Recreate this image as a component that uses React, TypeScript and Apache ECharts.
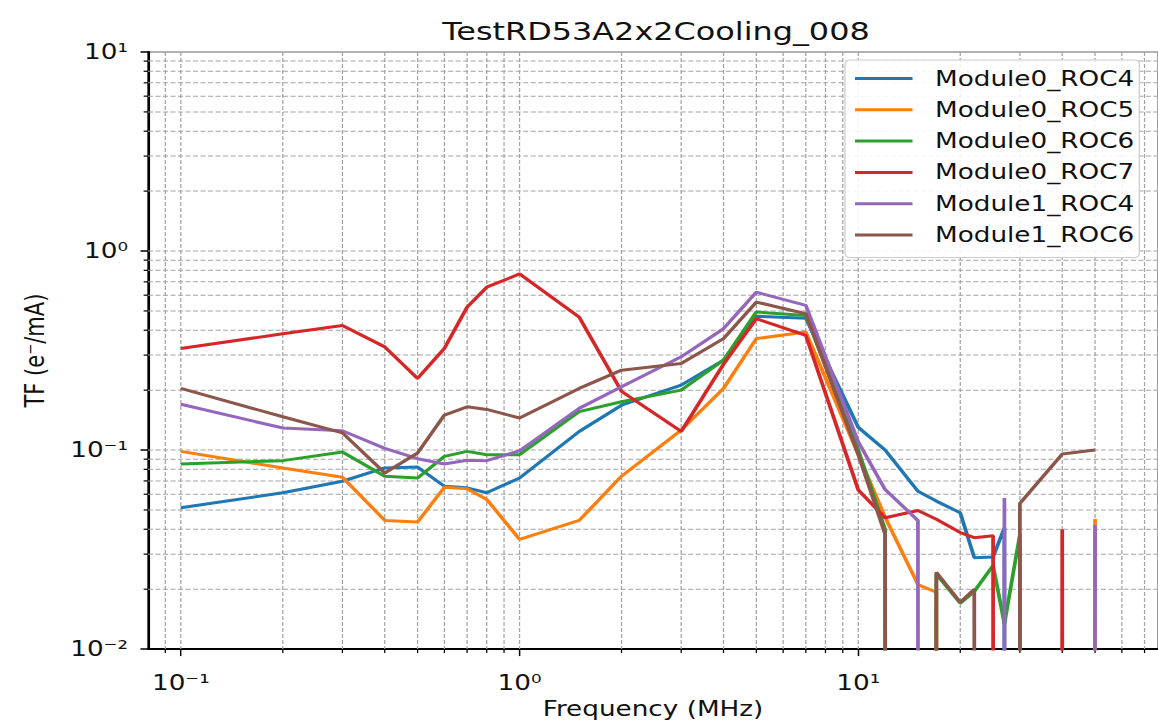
import React, { useEffect, useRef } from 'react';
import * as echarts from 'echarts';

// Page / stretch (the reference image is stretched horizontally)
const PAGE_W = 1158;
const PAGE_H = 724;
const CHART_W = 926;
const SCALE_X = PAGE_W / CHART_W;
const FONT = '"DejaVu Sans", "Liberation Sans", sans-serif';

// ---------------- data ----------------
const frequencies = [0.1, 0.2, 0.3, 0.4, 0.5, 0.6, 0.7, 0.8, 1, 1.5, 2, 3, 4, 5, 7, 10, 12, 15, 17, 20, 22, 25, 27, 30, 40, 50];

const seriesNames = ['Module0_ROC4', 'Module0_ROC5', 'Module0_ROC6', 'Module0_ROC7', 'Module1_ROC4', 'Module1_ROC6'];
const seriesColors = ['#1f77b4', '#ff7f0e', '#2ca02c', '#d62728', '#9467bd', '#8c564b'];

// 0 = non-positive reading (matplotlib clips these on a log axis -> vertical drop)
const module0Roc4 = [0.0513, 0.061, 0.0697, 0.0813, 0.0822, 0.0658, 0.0646, 0.061, 0.0724, 0.124, 0.168, 0.212, 0.283, 0.47, 0.46, 0.13, 0.1, 0.0621, 0.0554, 0.0484, 0.0288, 0.029, 0.0407, 0, 0, 0];
const module0Roc5 = [0.0985, 0.0813, 0.073, 0.0443, 0.0435, 0.065, 0.064, 0.0565, 0.0356, 0.0443, 0.0739, 0.126, 0.204, 0.363, 0.392, 0.095, 0.046, 0.0211, 0.0193, 0, 0, 0, 0, 0, 0, 0.045];
const module0Roc6 = [0.0851, 0.0885, 0.0977, 0.0739, 0.0724, 0.093, 0.0985, 0.0948, 0.0948, 0.156, 0.175, 0.2, 0.283, 0.494, 0.475, 0.1, 0.04, 0, 0.0238, 0.017, 0.0195, 0.0263, 0.0134, 0.0377, 0, 0];
const module0Roc7 = [0.324, 0.384, 0.423, 0.33, 0.229, 0.324, 0.523, 0.658, 0.767, 0.466, 0.197, 0.124, 0.27, 0.457, 0.377, 0.063, 0.0457, 0.0497, 0.0449, 0.0385, 0.0363, 0.0371, 0, 0, 0.04, 0];
const module1Roc4 = [0.17, 0.129, 0.125, 0.102, 0.0905, 0.0851, 0.0888, 0.0885, 0.0992, 0.162, 0.208, 0.294, 0.407, 0.621, 0.533, 0.11, 0.0633, 0.0443, 0, 0, 0, 0, 0.0575, 0, 0, 0.042];
const module1Roc6 = [0.204, 0.147, 0.122, 0.0767, 0.0966, 0.15, 0.165, 0.16, 0.145, 0.204, 0.252, 0.272, 0.363, 0.554, 0.484, 0.095, 0.0377, 0, 0.0243, 0.0172, 0.02, 0, 0, 0.054, 0.0955, 0.1];

const seriesValues = [module0Roc4, module0Roc5, module0Roc6, module0Roc7, module1Roc4, module1Roc6];

// axis ranges and grid / tick positions
const X_MIN = 0.08;
const X_MAX = 76.7;
const Y_MIN = 0.01;
const Y_MAX = 10;
const xMajorGrid = [0.1, 1, 10];
const xMinorGrid = [0.09, 0.2, 0.3, 0.4, 0.5, 0.6, 0.7, 0.8, 0.9, 2, 3, 4, 5, 6, 7, 8, 9, 20, 30, 40, 50, 60, 70];
const yMajorGrid = [0.1, 1];
const yMinorGrid = [0.02, 0.03, 0.04, 0.05, 0.06, 0.07, 0.08, 0.09, 0.2, 0.3, 0.4, 0.5, 0.6, 0.7, 0.8, 0.9, 2, 3, 4, 5, 6, 7, 8, 9];

const TITLE = 'TestRD53A2x2Cooling_008';
const X_NAME = 'Frequency (MHz)';
const Y_NAME = 'TF (e\u207B/mA)';

const CLIPPED = 1e-300; // like matplotlib's clipping of non-positive values

const SUP: Record<string, string> = { '-': '\u207B', '0': '\u2070', '1': '\u00B9', '2': '\u00B2', '3': '\u00B3' };
function powerLabel(v: number): string {
  const e = Math.log10(v);
  const r = Math.round(e);
  if (Math.abs(e - r) > 1e-6) return '';
  return '10' + String(r).split('').map((c) => SUP[c] || c).join('');
}

const GRID_STYLE = { stroke: '#a3a3a3', lineWidth: 1, lineDash: [4, 2] };

function vGrid(values: number[], minor: boolean) {
  return {
    type: 'custom',
    silent: true,
    clip: false,
    z: 1,
    data: values.map((v) => [v, 1]),
    renderItem: (params: any, api: any) => {
      const cs = params.coordSys;
      const p = api.coord([api.value(0), 1]);
      const children: any[] = [
        { type: 'line', shape: { x1: p[0], y1: cs.y, x2: p[0], y2: cs.y + cs.height }, style: GRID_STYLE },
      ];
      if (minor) {
        children.push({ type: 'line', shape: { x1: p[0], y1: cs.y + cs.height, x2: p[0], y2: cs.y + cs.height + 4 }, style: { stroke: '#000', lineWidth: 1 } });
      }
      return { type: 'group', children };
    },
  };
}

function hGrid(values: number[], minor: boolean) {
  return {
    type: 'custom',
    silent: true,
    clip: false,
    z: 1,
    data: values.map((v) => [1, v]),
    renderItem: (params: any, api: any) => {
      const cs = params.coordSys;
      const p = api.coord([1, api.value(1)]);
      const children: any[] = [
        { type: 'line', shape: { x1: cs.x, y1: p[1], x2: cs.x + cs.width, y2: p[1] }, style: GRID_STYLE },
      ];
      if (minor) {
        children.push({ type: 'line', shape: { x1: cs.x - 3.5, y1: p[1], x2: cs.x, y2: p[1] }, style: { stroke: '#000', lineWidth: 1.2 } });
      }
      return { type: 'group', children };
    },
  };
}

export default function App() {
  const ref = useRef<HTMLDivElement>(null);

  useEffect(() => {
    if (!ref.current) return;
    const chart = echarts.init(ref.current, null, { renderer: 'svg', width: CHART_W, height: PAGE_H });

    const lineSeries = seriesNames.map((name, i) => ({
      name,
      type: 'line',
      symbol: 'none',
      showSymbol: false,
      clip: true,
      z: 3,
      lineStyle: { color: seriesColors[i], width: 3 },
      itemStyle: { color: seriesColors[i] },
      data: frequencies.map((f, j) => [f, seriesValues[i][j] > 0 ? seriesValues[i][j] : CLIPPED]),
    }));

    chart.setOption({
      animation: false,
      textStyle: { fontFamily: FONT },
      graphic: [
        {
          type: 'text',
          x: 656 / SCALE_X,
          y: 31,
          style: {
            text: TITLE,
            fill: '#111',
            font: `25.5px ${FONT}`,
            textAlign: 'center',
            textVerticalAlign: 'middle',
            align: 'center',
            verticalAlign: 'middle',
          },
        },
      ],
      grid: {
        left: 148 / SCALE_X,
        right: 0,
        top: 52,
        bottom: 72,
        show: true,
        borderColor: '#999',
        borderWidth: 1.5,
        containLabel: false,
      },
      legend: {
        data: seriesNames,
        orient: 'vertical',
        left: 845 / SCALE_X,
        top: 60,
        icon: 'rect',
        itemWidth: 46,
        itemHeight: 3,
        itemGap: 10.3,
        padding: [8, 4, 12, 8],
        backgroundColor: 'rgba(255,255,255,0.88)',
        borderColor: '#cccccc',
        borderWidth: 1,
        borderRadius: 4,
        selectedMode: false,
        textStyle: { fontSize: 21, color: '#111', fontFamily: FONT, padding: [0, 0, 0, 13], lineHeight: 21 },
      },
      xAxis: {
        type: 'log',
        logBase: 10,
        min: X_MIN,
        max: X_MAX,
        name: X_NAME,
        nameLocation: 'middle',
        nameGap: 46,
        nameTextStyle: { fontSize: 21, color: '#111', fontFamily: FONT },
        axisLine: { show: true, onZero: false, lineStyle: { color: '#000', width: 2 } },
        axisTick: { show: true, length: 7, lineStyle: { color: '#000', width: 1.2 } },
        axisLabel: { formatter: powerLabel, fontSize: 21, color: '#111', margin: 23, showMinLabel: false, showMaxLabel: false, fontFamily: FONT },
        splitLine: { show: false },
      },
      yAxis: {
        type: 'log',
        logBase: 10,
        min: Y_MIN,
        max: Y_MAX,
        name: Y_NAME,
        nameLocation: 'middle',
        nameRotate: 90,
        nameGap: 80,
        nameTextStyle: { fontSize: 21, color: '#111', fontFamily: FONT },
        axisLine: { show: true, onZero: false, lineStyle: { color: '#000', width: 2 } },
        axisTick: { show: true, length: 6, lineStyle: { color: '#000', width: 1.5 } },
        axisLabel: { formatter: powerLabel, fontSize: 21, color: '#111', margin: 16, fontFamily: FONT },
        splitLine: { show: false },
      },
      series: [
        vGrid(xMajorGrid, false),
        vGrid(xMinorGrid, true),
        hGrid(yMajorGrid, false),
        hGrid(yMinorGrid, true),
        ...lineSeries,
      ],
    });

    return () => chart.dispose();
  }, []);

  return (
    <div
      ref={ref}
      style={{
        position: 'absolute',
        left: 0,
        top: 0,
        width: CHART_W,
        height: PAGE_H,
        transform: `scaleX(${SCALE_X})`,
        transformOrigin: '0 0',
        background: '#fff',
      }}
    />
  );
}
